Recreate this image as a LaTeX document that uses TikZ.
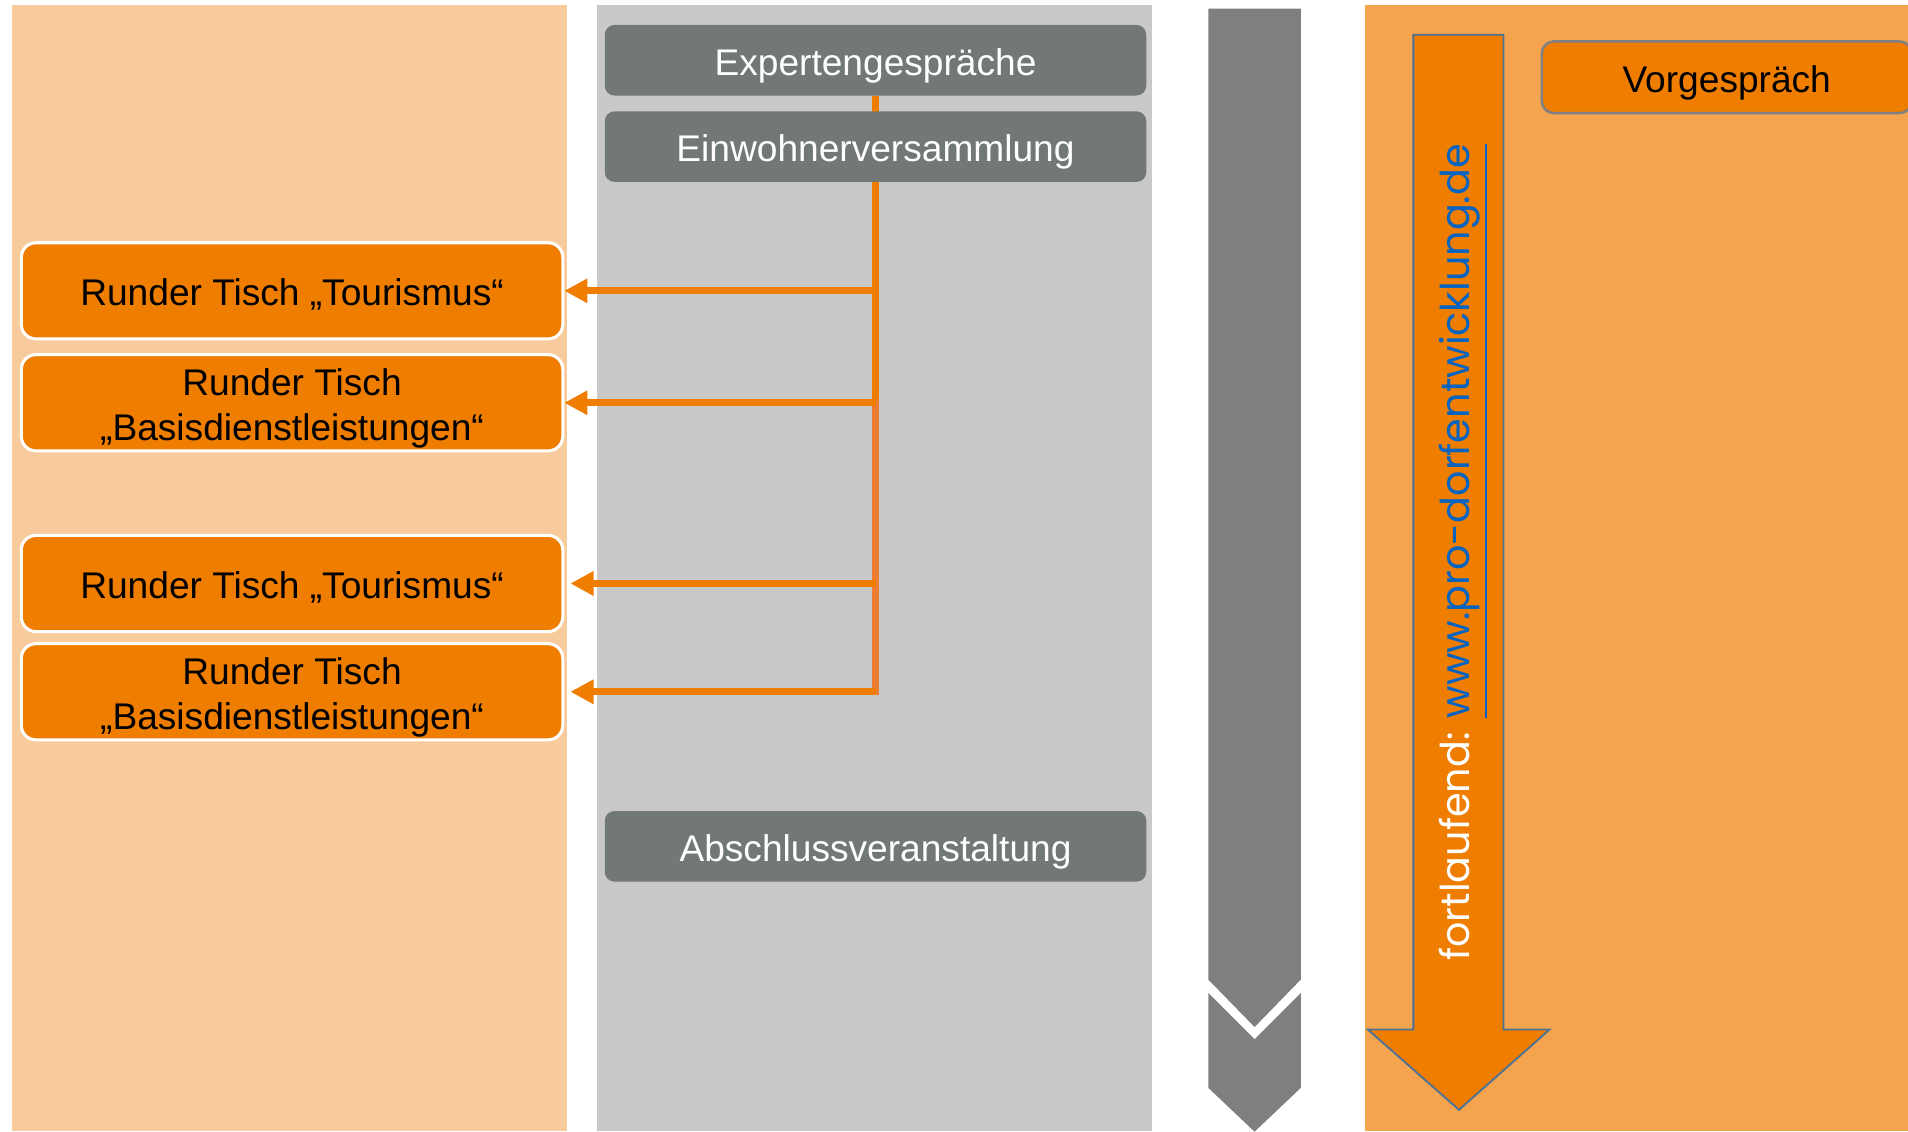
\documentclass[tikz,border=0pt]{standalone}
\usepackage{fontspec}
\setmainfont{Liberation Sans}
\newfontfamily\gothic{Poppins}
\usetikzlibrary{arrows.meta,backgrounds}
\definecolor{peach}{HTML}{F7CB9C}
\definecolor{panelgray}{HTML}{C8C9C8}
\definecolor{rightor}{HTML}{F4A44E}
\definecolor{boxgray}{HTML}{727777}
\definecolor{mainor}{HTML}{EF7D00}
\definecolor{lineortwo}{HTML}{ED7D31}
\definecolor{chev}{HTML}{7F7F7F}
\definecolor{arrowedge}{HTML}{4A7196}
\definecolor{linkblue}{HTML}{0563C1}
\definecolor{vorgedge}{HTML}{7F8084}
\newcommand{\tstr}{\rule{0pt}{32.8pt}}
\newcommand{\bstr}{\rule[-8pt]{0pt}{8pt}}
\begin{document}
\begin{tikzpicture}[x=1pt,y=-1pt,
  boxfont/.style={font=\fontsize{30.5}{37}\selectfont},
  graybox/.style={boxfont, draw=none, fill=boxgray, rounded corners=8pt, minimum width=445pt, minimum height=58pt, text=white, inner sep=0pt},
  tablebox/.style={boxfont, draw=white, line width=2.5pt, fill=mainor, rounded corners=12pt, minimum width=445pt, minimum height=79pt, text=black, align=center, inner sep=0pt},
  vorgbox/.style={boxfont, draw=vorgedge, line width=2pt, fill=mainor, rounded corners=10pt, minimum width=304pt, minimum height=59pt, text=black, inner sep=0pt},
  flow/.style={draw=mainor, line width=5.5pt},
  flowarrow/.style={draw=mainor, fill=mainor, line width=5.5pt, -{Triangle[length=19pt,width=19pt]}}
]
\useasboundingbox (0,0) rectangle (1568,929.5);
\clip (0,0) rectangle (1568,929.5);

% nodes
\node[graybox] (expert) at (719.5,49.5) {\tstr Expertengespräche\bstr};
\node[graybox] (einw) at (719.5,120.5) {\tstr Einwohnerversammlung\bstr};
\node[graybox] (absch) at (719.5,695.5) {\tstr Abschlussveranstaltung\bstr};
\node[tablebox] (t1) at (240,239) {\tstr Runder Tisch „Tourismus“\bstr};
\node[tablebox] (t2) at (240,331) {\tstr Runder Tisch\\„Basisdienstleistungen“\bstr};
\node[tablebox] (t3) at (240,479.5) {\tstr Runder Tisch „Tourismus“\bstr};
\node[tablebox] (t4) at (240,568.5) {\tstr Runder Tisch\\„Basisdienstleistungen“\bstr};
\node[vorgbox] (vorg) at (1419,63.5) {\tstr Vorgespräch\bstr};

\coordinate (j1) at (expert.south |- t1.east);
\coordinate (j2) at (expert.south |- t2.east);
\coordinate (j3) at (expert.south |- t3.east);
\coordinate (j4) at (expert.south |- t4.east);

\begin{scope}[on background layer]
  % panels
  \fill[peach] (10,4) rectangle (466,929.5);
  \fill[panelgray] (491,4) rectangle (947,929.5);
  \fill[rightor] (1122,4) rectangle (1568,929.5);
  % chevron
  \fill[chev] (993,7) -- (1069,7) -- (1069,805) -- (1031,844) -- (993,805) -- cycle;
  \fill[chev] (993,816) -- (1031,854) -- (1069,816) -- (1069,894) -- (1031,930) -- (993,894) -- cycle;
  % big arrow
  \filldraw[fill=mainor, draw=arrowedge, line width=1.5pt, line join=miter]
    (1161.5,28.5) -- (1235.5,28.5) -- (1235.5,846) -- (1273.5,846) -- (1199,912) -- (1124,846) -- (1161.5,846) -- cycle;
  % connectors
  \draw[flow] (expert.south) -- (j2);
  \draw[flow, draw=lineortwo, line cap=rect] (j2) -- (j4);
  \draw[flowarrow] (j1) -- (t1.east);
  \draw[flowarrow] (j2) -- (t2.east);
  \draw[flowarrow, shorten >=5pt] (j3) -- (t3.east);
  \draw[flowarrow, shorten >=5pt] (j4) -- (t4.east);
\end{scope}

\node[rotate=90, inner sep=0pt] (url) at (1203,454) {\resizebox{671pt}{!}{\gothic{\color{white}fortlaufend: }{\color{linkblue}\underline{www.pro-dorfentwicklung.de}}}};
\end{tikzpicture}
\end{document}
